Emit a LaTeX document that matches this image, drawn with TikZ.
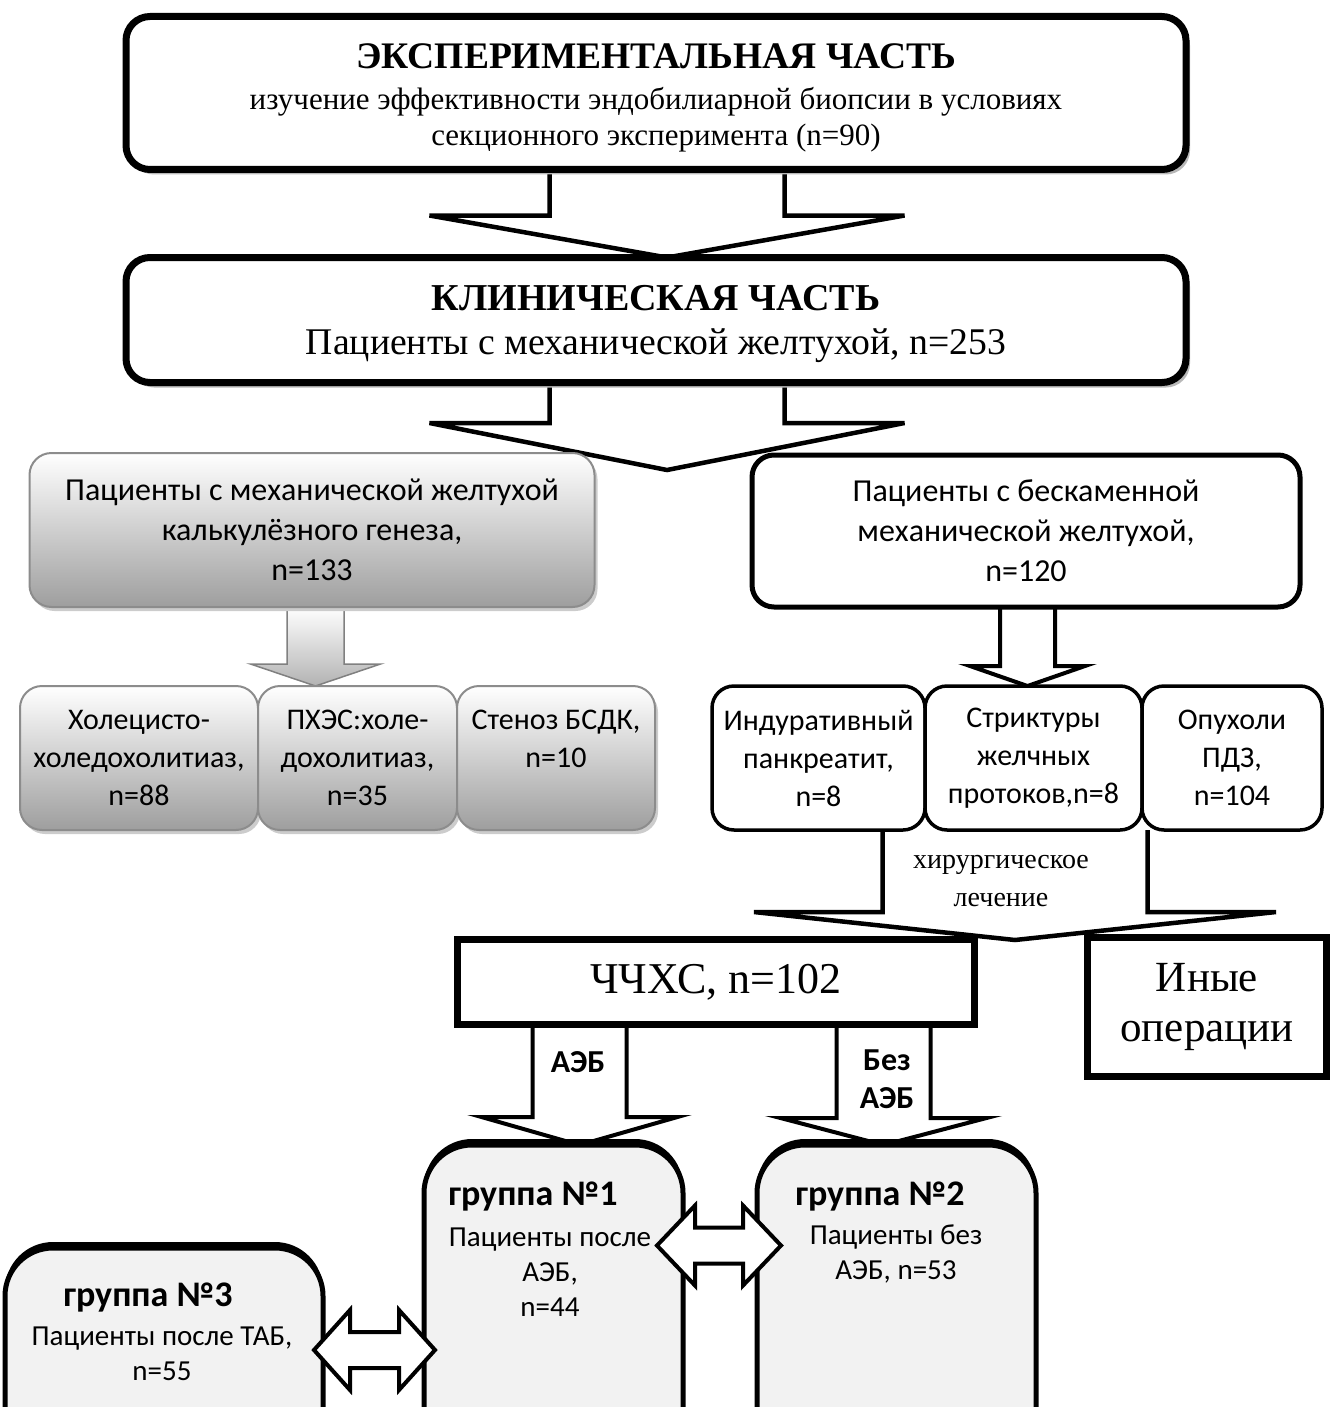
\documentclass[tikz,border=0pt]{standalone}
\usepackage{fontspec}
\setmainfont{Liberation Serif}
\newfontfamily\calibri{Carlito}
\usetikzlibrary{positioning}
\usetikzlibrary{shadows}
\usetikzlibrary{calc}
\pgfdeclarelayer{back}
\pgfsetlayers{back,main}
\newcommand\fsz[2]{\fontsize{#1}{#2}\selectfont}
\tikzset{
	bigbox/.style={draw, line width=7pt, rounded corners=24pt, fill=white, minimum width=1060pt, align=center, inner sep=0pt, outer sep=0pt,
		drop shadow={shadow xshift=4pt, shadow yshift=-5pt, fill=black!28, opacity=1}},
	graybox/.style={draw=black!45, line width=2pt, rounded corners=22pt, top color=white, bottom color=black!38, align=center, inner sep=0pt, outer sep=0pt,
		drop shadow={shadow xshift=3pt, shadow yshift=-4pt, fill=black!20, opacity=1}},
	whitebox/.style={draw, line width=3.5pt, rounded corners=22pt, fill=white, align=center, inner sep=0pt, outer sep=0pt},
	squarebox/.style={draw, line width=7pt, fill=white, align=center, inner sep=0pt, outer sep=0pt,
		drop shadow={shadow xshift=2pt, shadow yshift=-3pt, fill=black, opacity=1}},
	groupbox/.style={draw, line width=5pt, rounded corners=48pt, fill=black!5, inner sep=0pt, outer sep=0pt,
		drop shadow={shadow xshift=0pt, shadow yshift=6pt, fill=black, opacity=1}},
	blockarrow/.style={draw, line width=4.5pt, fill=white, line join=miter},
	grayarrow/.style={draw=black!50, line width=1.5pt, top color=white, bottom color=black!30},
	sans/.style={font=\calibri\fsz{30}{38}, align=center, inner sep=0pt},
	sansbold/.style={font=\calibri\bfseries\fsz{36}{38}, align=center, inner sep=0pt},
}
% block arrow down: [style]{start}{tip}{shaft half}{head half}{head length}
\newcommand\blockdown[6][]{%
	\draw[blockarrow,#1] let \p1=#2, \p2=#3 in
		(\x2-#4pt,\y1) -- (\x2-#4pt,\y2+#6pt) -- (\x2-#5pt,\y2+#6pt) -- (\x2,\y2)
		-- (\x2+#5pt,\y2+#6pt) -- (\x2+#4pt,\y2+#6pt) -- (\x2+#4pt,\y1);}
% double block arrow: [style]{left tip}{right tip}{shaft half}{head half}{head length}
\newcommand\blockboth[6][]{%
	\draw[blockarrow,#1] let \p1=#2, \p2=#3 in
		(\x1,\y1) -- (\x1+#6pt,\y1+#5pt) -- (\x1+#6pt,\y1+#4pt) -- (\x2-#6pt,\y1+#4pt)
		-- (\x2-#6pt,\y1+#5pt) -- (\x2,\y1) -- (\x2-#6pt,\y1-#5pt) -- (\x2-#6pt,\y1-#4pt)
		-- (\x1+#6pt,\y1-#4pt) -- (\x1+#6pt,\y1-#5pt) -- cycle;}

\begin{document}
\begin{tikzpicture}[x=1pt, y=-1pt]
	\useasboundingbox (0,0) rectangle (1331,1407);
	\clip (0,0) rectangle (1331,1407);

	\node[bigbox, minimum height=153pt, font=\fsz{31}{36}] (exp) at (656,93)
		{\rule{0pt}{34pt}{\bfseries\fsz{37.5}{42}ЭКСПЕРИМЕНТАЛЬНАЯ ЧАСТЬ}\\[5pt]изучение эффективности эндобилиарной биопсии в условиях\\секционного эксперимента (n=90)};
	\node[bigbox, minimum height=125pt, font=\fsz{37.7}{44}] (clin) at (656,320)
		{\rule{0pt}{33pt}{\bfseries\fsz{38}{42}КЛИНИЧЕСКАЯ ЧАСТЬ}\\Пациенты с механической желтухой, n=253};

	\node[graybox, sans, font=\calibri\fsz{32}{40}, minimum width=565pt, minimum height=154pt] (calc) at (312,530)
		{Пациенты с механической желтухой\\калькулёзного генеза,\\n=133};
	\node[whitebox, sans, font=\calibri\fsz{32}{40}, line width=5pt, minimum width=548pt, minimum height=152pt] (bile) at (1026,531)
		{Пациенты с бескаменной\\механической желтухой,\\n=120};

	\node[graybox, sans, minimum width=238pt, minimum height=144pt] (hol) at (139,758)
		{Холецисто-\\холедохолитиаз,\\n=88};
	\node[graybox, sans, minimum width=199pt, minimum height=144pt] (phes) at (357.5,758)
		{ПХЭС:холе-\\дохолитиаз,\\n=35};
	\node[graybox, sans, minimum width=198pt, minimum height=144pt] (sten) at (556,758)
		{Стеноз БСДК,\\n=10\\\mbox{}};

	\node[whitebox, sans, minimum width=213pt, minimum height=144pt] (ind) at (818.5,758)
		{Индуративный\\панкреатит,\\n=8};
	\node[whitebox, sans, minimum width=217pt, minimum height=144pt] (str) at (1033.5,758)
		{Стриктуры\\желчных\\протоков,n=8};
	\node[whitebox, sans, minimum width=180pt, minimum height=144pt] (tum) at (1232,758)
		{Опухоли\\ПДЗ,\\n=104};

	\node[squarebox, minimum width=517pt, minimum height=85pt, font=\fsz{44}{48}] (chxs) at (716,982) {ЧЧХС, n=102};
	\node[squarebox, minimum width=239pt, minimum height=139pt, font=\fsz{43}{50}] (other) at (1207,1007) {Иные\\операции};

	\node[groupbox, minimum width=259pt, minimum height=325pt] (g1) at (553.5,1307.5) {};
	\node[groupbox, minimum width=279pt, minimum height=325pt] (g2) at (896.5,1307.5) {};
	\node[groupbox, minimum width=318pt, minimum height=222pt] (g3) at (164,1359) {};

	\node[sansbold] (g1t) at (533,1197) {группа №1};
	\node[sans, font=\calibri\fsz{29}{35}] (g1b) at (550,1272) {Пациенты после\\АЭБ,\\n=44};
	\node[sansbold] (g2t) at (880,1197) {группа №2};
	\node[sans, font=\calibri\fsz{29}{35}] (g2b) at (896,1254) {Пациенты без\\АЭБ, n=53};
	\node[sansbold] (g3t) at (148,1298) {группа №3};
	\node[sans, font=\calibri\fsz{29}{35}] (g3b) at (162,1354) {Пациенты после ТАБ,\\n=55};

	\coordinate (split) at (667,470);
	\coordinate (surg) at (1015,940);

	\begin{pgfonlayer}{back}
		\blockdown{(exp.south)}{([xshift=11pt]clin.north)}{117.5}{237.5}{42}
		\blockdown{(clin.south)}{(split)}{117.5}{237.5}{47}
		\blockdown[grayarrow]{(calc.south)}{([xshift=-42pt]phes.north)}{28.5}{65}{22}
		\blockdown[line width=4pt]{(bile.south)}{([xshift=-6pt]str.north)}{27.5}{57.5}{20}
		\blockdown{(str.south)}{(surg)}{132.5}{261}{28}
		\blockdown[line width=4pt]{(chxs.south)}{([xshift=26pt]g1.north)}{47}{98}{28}
		\blockdown[line width=4pt]{(chxs.south)}{([xshift=-13pt]g2.north)}{47}{103}{27}
	\end{pgfonlayer}

	\node[font=\fsz{28}{38}, align=center, inner sep=0pt] (surgt) at (1001,881) {хирургическое\\лечение};
	\node[sansbold, font=\calibri\bfseries\fsz{32}{38}] (aeb) at (578,1062) {АЭБ};
	\node[sansbold, font=\calibri\bfseries\fsz{32}{38}] (noaeb) at (887,1079) {Без\\АЭБ};

	\blockboth[line width=4pt]{([xshift=-26pt,yshift=62pt]g1.east)}{([xshift=24pt,yshift=62pt]g2.west)}{18}{40}{38}
	\blockboth[line width=4pt]{([xshift=-9pt,yshift=9pt]g3.east)}{([xshift=11pt,yshift=9pt]g1.west)}{18}{40}{36}
\end{tikzpicture}
\end{document}
